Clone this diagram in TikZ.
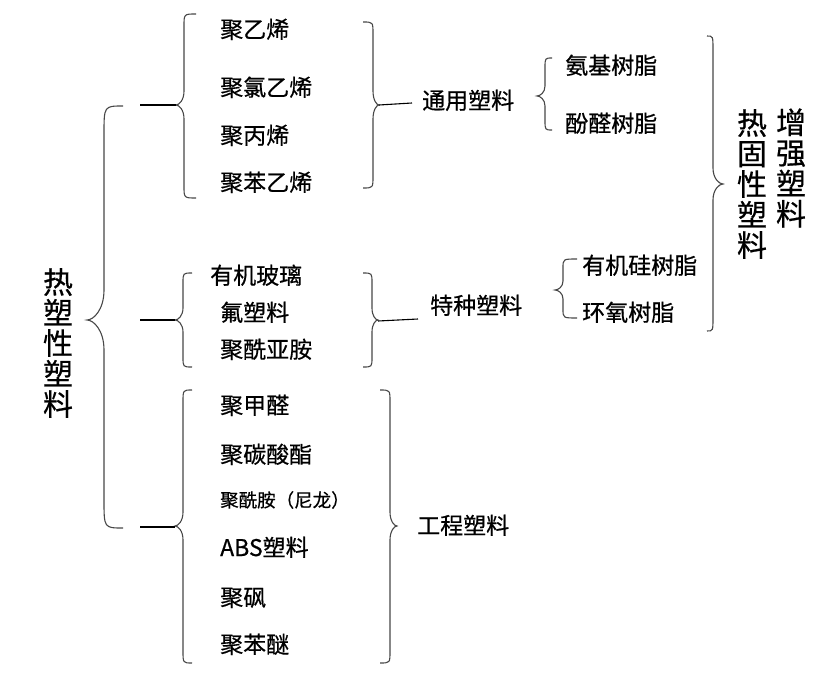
\documentclass[tikz,border=0pt]{standalone}
\usepackage{fontspec}
\setmainfont{Noto Sans CJK SC}[UprightFeatures={FakeBold=0.6}]
\begin{document}
\begin{tikzpicture}[x=1pt,y=-1pt,
  brc/.style={draw=black!72,line width=1.1pt},
  conn/.style={draw=black,line width=1.1pt},
  item/.style={anchor=west,inner sep=0pt,text height=1.2em,text depth=0pt,font=\fontsize{23}{23}\selectfont},
  smallitem/.style={item,font=\fontsize{18.5}{18.5}\selectfont},
  vtext/.style={inner sep=0pt,align=center,font=\fontsize{30}{30.5}\selectfont}]
\useasboundingbox (0,0) rectangle (821,676);
\newcommand\Brace[8]{%
 \draw[brc] (#1,#4) .. controls (#2,#4) .. (#2,{#4+#7})
   -- (#2,{#5-#8}) .. controls (#2,{#5-0.35*#8}) and ({#3+0.4*(#2-#3)},#5) .. (#3,#5)
   .. controls ({#3+0.4*(#2-#3)},#5) and (#2,{#5+0.35*#8}) .. (#2,{#5+#8})
   -- (#2,{#6-#7}) .. controls (#2,#6) .. (#1,#6);}
% main left text
\node[vtext] (thermo) at (58,343) {热\\塑\\性\\塑\\料};
% big left brace
\Brace{123}{104}{87}{106}{320}{528}{28}{30}
\coordinate (s1) at (140,105);
\coordinate (s2) at (140,320);
\coordinate (s3) at (140,527);
% group 1
\Brace{196}{184}{176}{14}{105}{198}{12}{14}
\coordinate (g1l) at (176,105);
\node[item] (pe) at (220,32) {聚乙烯};
\node[item] (pvc) at (220,90) {聚氯乙烯};
\node[item] (pp) at (220,138) {聚丙烯};
\node[item] (ps) at (220,185) {聚苯乙烯};
\Brace{363}{373}{379}{22}{105}{188}{12}{14}
\coordinate (g1r) at (379,105);
\node[item] (gen) at (422,103) {通用塑料};
% amino / phenolic
\Brace{552}{545}{537}{58}{96}{130}{10}{10}
\node[item] (amino) at (565,68) {氨基树脂};
\node[item] (phen) at (565,126) {酚醛树脂};
% thermoset brace
\Brace{707}{713}{723}{36}{184}{331}{14}{16}
\node[vtext] (tset) at (752,184) {热\\固\\性\\塑\\料};
\node[vtext] (reinf) at (791,168) {增\\强\\塑\\料};
% silicone / epoxy
\Brace{577}{563}{555}{259}{290}{318}{9}{9}
\node[item] (sil) at (582,268) {有机硅树脂};
\node[item] (epo) at (582,315) {环氧树脂};
% group 2
\Brace{192}{183}{175}{273}{320}{367}{10}{12}
\coordinate (g2l) at (175,320);
\node[item] (pmma) at (210,278) {有机玻璃};
\node[item] (fluo) at (220,315) {氟塑料};
\node[item] (pi) at (220,352) {聚酰亚胺};
\Brace{363}{372}{378}{273}{320}{367}{10}{12}
\coordinate (g2r) at (378,321);
\coordinate (g2e) at (418,319);
\node[item] (spec) at (430,308) {特种塑料};
% group 3
\Brace{192}{183}{175}{390}{526}{663}{12}{14}
\coordinate (g3l) at (175,527);
\node[item] (pom) at (220,408) {聚甲醛};
\node[item] (pc) at (220,457) {聚碳酸酯};
\node[smallitem] (pa) at (220,501) {聚酰胺（尼龙）};
\node[item] (abs) at (220,550) {ABS塑料};
\node[item] (psf) at (220,600) {聚砜};
\node[item] (ppo) at (220,647) {聚苯醚};
\Brace{380}{390}{397}{390}{526}{663}{12}{14}
\node[item] (eng) at (417,528) {工程塑料};
% connectors
\draw[conn] (s1) -- (g1l);
\draw[conn] (s2) -- (g2l);
\draw[conn] (s3) -- (g3l);
\draw[conn] (g1r) -- (gen.west -| 412,0);
\draw[conn] (g2r) -- (g2e);
\end{tikzpicture}
\end{document}
